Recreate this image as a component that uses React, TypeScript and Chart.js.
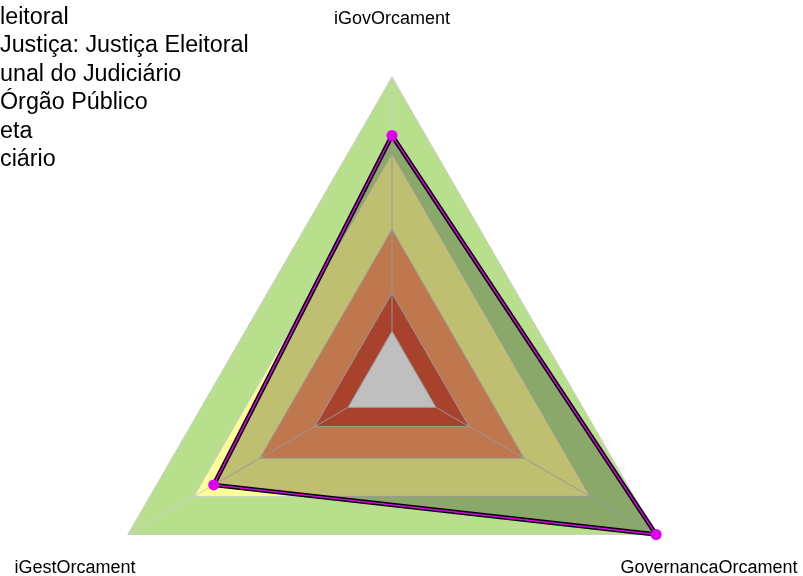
import React, { useEffect, useRef } from "react";
import { Chart, registerables } from "chart.js";

Chart.register(...registerables);

// ---- data ----
const axisLabels = ["iGovOrcament", "GovernancaOrcament", "iGestOrcament"];
const orgValues = [0.77, 1.0, 0.61];
const levelAprimorado = [1, 1, 1];
const levelIntermediario = [0.7, 0.7, 0.7];
const levelIniciando = [0.4, 0.4, 0.4];
const levelInexpressivo = [0.15, 0.15, 0.15];
const levelZero = [0, 0, 0];

// legend entries (start of each is outside the visible area)
const legendLabels = [
  "Tribunal Regional Eleitoral",
  "Segmento de Justiça: Justiça Eleitoral",
  "Tipo de Tribunal do Judiciário",
  "Média Órgão Público",
  "Meta",
  "Poder Judiciário",
];
const legendHiddenPrefix = [
  "Tribunal Regional E",
  "Segmento de ",
  "Tipo de Trib",
  "Média ",
  "M",
  "Poder Judi",
];

const HOLE_INDEX = 4;

const overlayPlugin = {
  id: "overlay",
  afterDatasetDraw(chart: any, args: any) {
    if (args.index !== HOLE_INDEX) return;
    const scale = chart.scales.r;
    const ctx = chart.ctx;
    ctx.save();
    ctx.strokeStyle = "#cccccc";
    ctx.lineWidth = 1;
    for (let i = 0; i < axisLabels.length; i++) {
      const a = scale.getPointPositionForValue(i, 0);
      const b = scale.getPointPositionForValue(i, 1);
      ctx.beginPath();
      ctx.moveTo(a.x, a.y);
      ctx.lineTo(b.x, b.y);
      ctx.stroke();
    }
    ctx.restore();
  },
  afterDraw(chart: any) {
    const scale = chart.scales.r;
    const ctx = chart.ctx;
    ctx.save();
    ctx.fillStyle = "#000000";
    ctx.font = "18px 'Liberation Sans', Arial, sans-serif";
    ctx.textAlign = "center";
    ctx.textBaseline = "alphabetic";
    for (let i = 0; i < axisLabels.length; i++) {
      const p = scale.getPointPosition(i, scale.drawingArea * 1.2);
      ctx.fillText(axisLabels[i], p.x, p.y + 7.5);
    }
    ctx.font = "23.3px 'Liberation Sans', Arial, sans-serif";
    ctx.textAlign = "left";
    for (let i = 0; i < legendLabels.length; i++) {
      const off = ctx.measureText(legendHiddenPrefix[i]).width;
      ctx.fillText(legendLabels[i], -off, 23.5 + 28.5 * i);
    }
    ctx.restore();
  },
};

function band(label: string, data: number[], color: string, order: number) {
  return {
    label,
    data,
    backgroundColor: color,
    borderColor: "#cccccc",
    borderWidth: 1,
    pointRadius: 0,
    fill: "origin",
    order,
  };
}

export default function App() {
  const ref = useRef<HTMLCanvasElement>(null);
  useEffect(() => {
    if (!ref.current) return;
    const chart = new Chart(ref.current, {
      type: "radar",
      data: {
        labels: axisLabels,
        datasets: [
          band("Aprimorado", levelAprimorado, "#b8e08c", 10),
          band("Intermediário", levelIntermediario, "#ffff99", 9),
          band("Iniciando", levelIniciando, "#ffa068", 8),
          band("Inexpressivo", levelInexpressivo, "#e0583b", 7),
          {
            label: "centro",
            data: levelZero,
            backgroundColor: "transparent",
            borderColor: "#cccccc",
            borderWidth: 1,
            pointRadius: 0,
            fill: false,
            order: 6,
          },
          {
            label: "Órgão (área)",
            data: orgValues,
            backgroundColor: "rgba(0,0,0,0.25)",
            borderColor: "transparent",
            borderWidth: 0,
            pointRadius: 0,
            fill: "start",
            order: 3,
          },
          {
            label: "Órgão (contorno)",
            data: orgValues,
            borderColor: "#000000",
            borderWidth: 4.5,
            pointRadius: 0,
            fill: false,
            order: 2,
          },
          {
            label: "Órgão",
            data: orgValues,
            borderColor: "#dd00ee",
            borderWidth: 1.5,
            pointRadius: 5.5,
            pointBackgroundColor: "#dd00ee",
            pointBorderWidth: 0,
            fill: false,
            order: 1,
          },
        ],
      },
      options: {
        animation: false,
        responsive: true,
        maintainAspectRatio: false,
        events: [],
        layout: { padding: { left: 87, right: 106, top: 77, bottom: 33 } },
        plugins: {
          legend: { display: false },
          tooltip: { enabled: false },
        },
        scales: {
          r: {
            min: -0.2,
            max: 1,
            ticks: { display: false },
            grid: { display: false },
            angleLines: { display: false },
            pointLabels: { display: false },
          },
        },
      },
      plugins: [overlayPlugin],
    });
    return () => chart.destroy();
  }, []);
  return (
    <div
      style={{
        position: "fixed",
        left: 0,
        top: 0,
        width: 803,
        height: 576,
        overflow: "hidden",
        background: "#ffffff",
      }}
    >
      <div style={{ position: "relative", width: 803, height: 720 }}>
        <canvas ref={ref} />
      </div>
    </div>
  );
}
